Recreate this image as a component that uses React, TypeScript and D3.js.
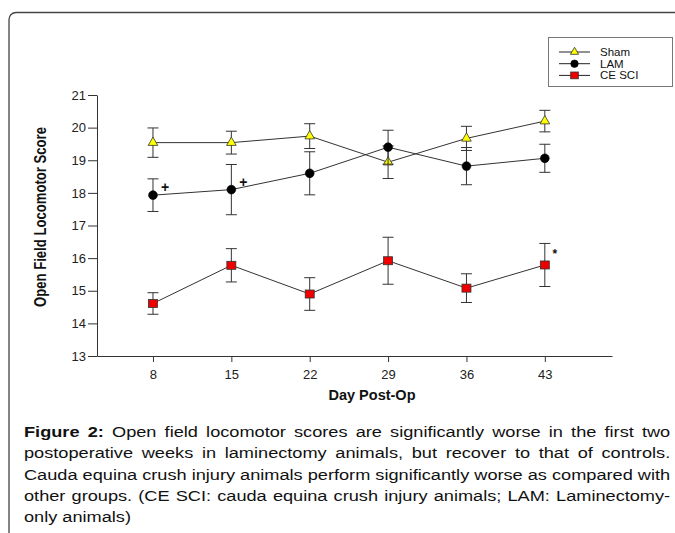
import React, { useEffect, useRef } from 'react';
import * as d3 from 'd3';

// Day post-op and open field scores (mean, error)
const days = [8, 15, 22, 29, 36, 43];
const yTicks = [13, 14, 15, 16, 17, 18, 19, 20, 21];

const shamMean = [19.54, 19.54, 19.74, 18.94, 19.67, 20.2];
const shamErr = [0.45, 0.35, 0.38, 0.5, 0.37, 0.33];

const lamMean = [17.93, 18.1, 18.6, 19.4, 18.82, 19.06];
const lamErr = [0.5, 0.77, 0.66, 0.52, 0.57, 0.43];

const ceMean = [14.61, 15.78, 14.9, 15.92, 15.08, 15.79];
const ceErr = [0.33, 0.51, 0.5, 0.72, 0.44, 0.66];

const seriesNames = ['Sham', 'LAM', 'CE SCI'];

// significance marks: series, day, symbol
const marks = [
  { series: 'LAM', day: 8, label: '+' },
  { series: 'LAM', day: 15, label: '+' },
  { series: 'CE SCI', day: 43, label: '*' },
];

const captionLabel = 'Figure 2:';
const captionLines = [
  ' Open field locomotor scores are significantly worse in the first two',
  'postoperative weeks in laminectomy animals, but recover to that of controls.',
  'Cauda equina crush injury animals perform significantly worse as compared with',
  'other groups. (CE SCI: cauda equina crush injury animals; LAM: Laminectomy-',
  'only animals)',
];

const FONT = 'Liberation Sans, Arial, Helvetica, sans-serif';

function App() {
  const ref = useRef<SVGSVGElement>(null);

  useEffect(() => {
    const svg = d3.select(ref.current);
    svg.selectAll('*').remove();

    const width = 675;
    const height = 533;
    svg.attr('width', width).attr('height', height);

    // outer figure frame (runs off the right and bottom edges)
    svg
      .append('rect')
      .attr('x', 9)
      .attr('y', 12.5)
      .attr('width', 720)
      .attr('height', 600)
      .attr('rx', 7)
      .attr('fill', 'none')
      .attr('stroke', '#444')
      .attr('stroke-width', 1.3);

    const x = d3.scaleLinear().domain([3, 49]).range([97, 612]);
    const y = d3.scaleLinear().domain([13, 21]).range([356, 95]);

    // x axis
    const gx = svg
      .append('g')
      .attr('transform', `translate(0,${y(13)})`)
      .call(d3.axisBottom(x).tickValues(days).tickSize(6).tickSizeOuter(0).tickPadding(8));
    gx.selectAll('path, line').attr('stroke', '#333');
    gx.selectAll('text').attr('font-size', 13).attr('font-family', FONT).attr('fill', '#222');

    // y axis
    const gy = svg
      .append('g')
      .attr('transform', `translate(${x(3)},0)`)
      .call(d3.axisLeft(y).tickValues(yTicks).tickSize(9).tickSizeOuter(0).tickPadding(2));
    gy.selectAll('path, line').attr('stroke', '#333');
    gy.selectAll('text').attr('font-size', 13).attr('font-family', FONT).attr('fill', '#222');

    // axis titles
    svg
      .append('text')
      .attr('x', 372)
      .attr('y', 400)
      .attr('text-anchor', 'middle')
      .attr('font-family', FONT)
      .attr('font-weight', 'bold')
      .attr('font-size', 14.5)
      .attr('fill', '#111')
      .text('Day Post-Op');

    svg
      .append('text')
      .attr('transform', 'translate(46,217) rotate(-90)')
      .attr('text-anchor', 'middle')
      .attr('font-family', FONT)
      .attr('font-weight', 'bold')
      .attr('font-size', 16.5)
      .attr('textLength', 180)
      .attr('lengthAdjust', 'spacingAndGlyphs')
      .attr('fill', '#111')
      .text('Open Field Locomotor Score');

    const series = [
      { name: seriesNames[0], mean: shamMean, err: shamErr, symbol: 'triangle', fill: '#ffff00' },
      { name: seriesNames[1], mean: lamMean, err: lamErr, symbol: 'circle', fill: '#000' },
      { name: seriesNames[2], mean: ceMean, err: ceErr, symbol: 'square', fill: '#ee0000' },
    ];

    const drawSymbol = (g, type, fill, cx, cy, k = 1) => {
      if (type === 'circle') {
        g.append('circle').attr('cx', cx).attr('cy', cy).attr('r', 4.4 * k).attr('fill', fill).attr('stroke', '#000').attr('stroke-width', 0.6);
      } else if (type === 'square') {
        g.append('rect').attr('x', cx - 4.5 * k).attr('y', cy - 4 * k).attr('width', 9 * k).attr('height', 8 * k).attr('fill', fill).attr('stroke', '#333').attr('stroke-width', 0.8);
      } else {
        g.append('path')
          .attr('d', d3.symbol(d3.symbolTriangle, 40 * k * k)())
          .attr('transform', `translate(${cx},${cy})`)
          .attr('fill', fill)
          .attr('stroke', '#333')
          .attr('stroke-width', 0.8);
      }
    };

    const line = d3
      .line<number>()
      .x((_, i) => x(days[i]))
      .y((d) => y(d));

    series.forEach((s) => {
      const g = svg.append('g');
      g.append('path').attr('d', line(s.mean)).attr('fill', 'none').attr('stroke', '#333').attr('stroke-width', 1);

      // error bars
      s.mean.forEach((m, i) => {
        const cx = x(days[i]);
        const top = y(m + s.err[i]);
        const bot = y(m - s.err[i]);
        g.append('line').attr('x1', cx).attr('x2', cx).attr('y1', top).attr('y2', bot).attr('stroke', '#333').attr('stroke-width', 1);
        [top, bot].forEach((yy) =>
          g.append('line').attr('x1', cx - 5.5).attr('x2', cx + 5.5).attr('y1', yy).attr('y2', yy).attr('stroke', '#333').attr('stroke-width', 1)
        );
      });

      s.mean.forEach((m, i) => drawSymbol(g, s.symbol, s.fill, x(days[i]), y(m)));
    });

    // significance marks
    marks.forEach((mk) => {
      const s = series.find((d) => d.name === mk.series);
      const i = days.indexOf(mk.day);
      const plus = mk.label === '+';
      svg
        .append('text')
        .attr('x', x(mk.day) + (plus ? 12 : 10))
        .attr('y', y(s.mean[i]) + (plus ? -3 : -7))
        .attr('text-anchor', 'middle')
        .attr('font-family', FONT)
        .attr('font-weight', 'bold')
        .attr('font-size', plus ? 14 : 12)
        .attr('fill', '#111')
        .text(mk.label);
    });

    // legend
    const lg = svg.append('g');
    lg.append('rect').attr('x', 548.5).attr('y', 37.5).attr('width', 124).attr('height', 49).attr('fill', '#fff').attr('stroke', '#777').attr('stroke-width', 1);
    series.forEach((s, i) => {
      const ly = 52 + i * 11.7;
      lg.append('line').attr('x1', 559).attr('x2', 590).attr('y1', ly).attr('y2', ly).attr('stroke', '#222').attr('stroke-width', 1);
      drawSymbol(lg, s.symbol, s.fill, 574.5, ly, 0.85);
      lg.append('text')
        .attr('x', 600)
        .attr('y', ly + 4)
        .attr('font-family', FONT)
        .attr('font-size', 11.5)
        .attr('fill', '#111')
        .text(s.name);
    });

    // caption, justified between left and right margins
    const left = 24;
    const right = 671;
    const span = right - left;
    const texts = captionLines.map((ln, i) => {
      const t = svg
        .append('text')
        .attr('font-family', FONT)
        .attr('font-size', 15.5)
        .attr('fill', '#111');
      if (i === 0) t.append('tspan').attr('font-weight', 'bold').text(captionLabel);
      t.append('tspan').text(ln);
      return t;
    });
    const widths = texts.map((t) => (t.node() as SVGTextElement).getComputedTextLength());
    const sx = span / widths[2];
    texts.forEach((t, i) => {
      t.attr('transform', `translate(${left},${437 + i * 21.3}) scale(${sx},1)`);
      if (i < captionLines.length - 1) {
        const full = (i === 0 ? captionLabel : '') + captionLines[i];
        const spaces = (full.match(/ /g) || []).length;
        const ws = (span / sx - widths[i]) / spaces;
        t.attr('word-spacing', ws);
      }
    });
  }, []);

  return <svg ref={ref} style={{ position: 'absolute', left: 0, top: 0 }}></svg>;
}

export default App;
